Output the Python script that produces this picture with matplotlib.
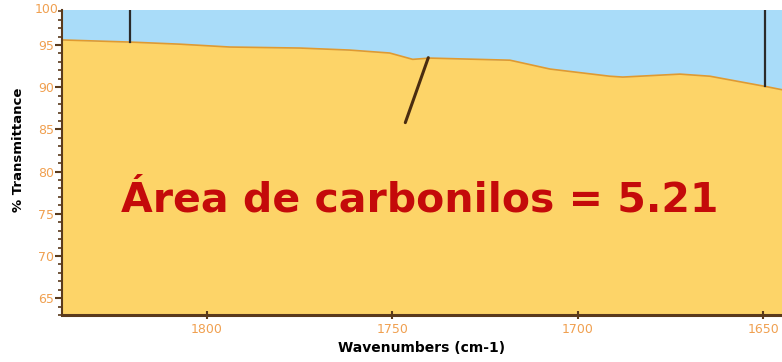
import numpy as np
from matplotlib import pyplot as plt
from matplotlib.ticker import MultipleLocator

# Spectrum trace, carbonyl region (wavenumber cm-1 vs %T)
wavenumbers = [1839, 1820.8, 1807.3, 1793.8, 1774.9, 1761.5, 1750.7, 1744.5,
               1739.9, 1718.3, 1707.5, 1691.4, 1687.9, 1672.5, 1664.4, 1649.6, 1645]
transmittance = [95.6, 95.35, 95.1, 94.76, 94.64, 94.4, 94.05, 93.3,
                 93.45, 93.2, 92.15, 91.3, 91.2, 91.55, 91.3, 90.1, 89.7]

# integration limits and peak marker
limit_wn = [1820.8, 1649.6]
peak_marker_wn = [1740.3, 1746.5]
peak_marker_t = [93.5, 85.8]

area_label = "Área de carbonilos = 5.21"
x_ticks = [1800, 1750, 1700, 1650]
y_ticks = [65, 70, 75, 80, 85, 90, 95]

spine_col = '#5a3a1c'
tick_col = '#f0a050'
fill_col = '#fdd468'
sky_col = '#a9dcf9'
line_col = '#e09a30'

fig = plt.figure(figsize=(7.82, 3.62), dpi=100)
ax = fig.add_axes([0.0793, 0.1298, 0.9207, 0.8426])

y_lo, y_hi = 63.0, 99.15
ax.set_xlim(1839, 1645)
ax.set_ylim(y_lo, y_hi)

ax.set_facecolor(sky_col)
ax.fill_between(wavenumbers, y_lo, transmittance, color=fill_col, lw=0)
ax.plot(wavenumbers, transmittance, color=line_col, lw=1.2)

# vertical limit lines from top down to the trace
for wn in limit_wn:
    t = np.interp(wn, wavenumbers[::-1], transmittance[::-1])
    ax.plot([wn, wn], [t, y_hi], color='#2a2a2a', lw=1.6)
ax.plot(peak_marker_wn, peak_marker_t, color='#4a2c10', lw=2.2, solid_capstyle='round')

ax.text(0.497, 0.375, area_label, transform=ax.transAxes, ha='center', va='center',
        fontsize=29.5, fontweight='bold', color='#c40a0a')

for s in ['top', 'right']:
    ax.spines[s].set_visible(False)
ax.spines['left'].set_color(spine_col)
ax.spines['left'].set_linewidth(1.5)
ax.spines['bottom'].set_color(spine_col)
ax.spines['bottom'].set_linewidth(2.2)

ax.set_xticks(x_ticks)
ax.set_yticks(y_ticks)
ax.yaxis.set_minor_locator(MultipleLocator(1))
ax.tick_params(axis='y', which='major', direction='out', length=5, width=1.5,
               color=spine_col, labelcolor=tick_col, labelsize=9, pad=1)
ax.tick_params(axis='y', which='minor', direction='out', length=3, width=1.2, color=spine_col)
ax.tick_params(axis='x', which='major', direction='inout', length=6, width=1.5,
               color=spine_col, labelcolor=tick_col, labelsize=9, pad=3)
ax.text(-0.005, 1.0, '100', transform=ax.transAxes, ha='right', va='center',
        fontsize=9, color=tick_col)

ax.set_xlabel('Wavenumbers (cm-1)', fontsize=10, fontweight='bold', labelpad=3)
ax.set_ylabel('% Transmittance', fontsize=9.5, fontweight='bold')
ax.yaxis.set_label_coords(-0.051, 0.54)

fig.savefig('out.png', dpi=100)
